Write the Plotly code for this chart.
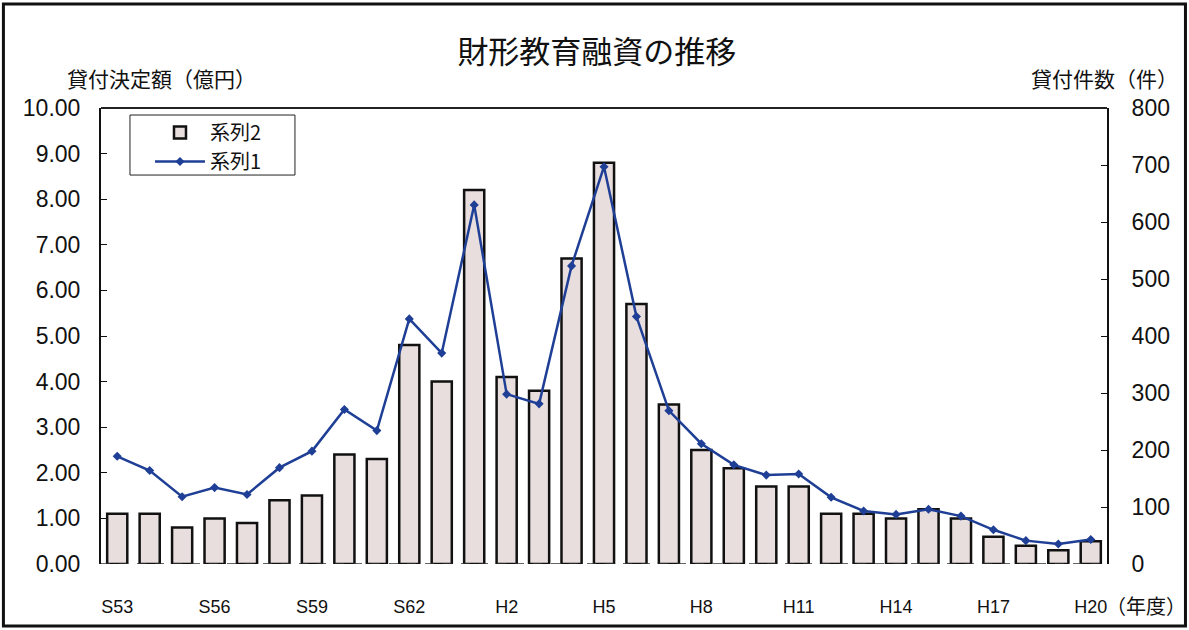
import plotly.graph_objects as go

years = ["S53","S54","S55","S56","S57","S58","S59","S60","S61","S62","S63",
         "H1","H2","H3","H4","H5","H6","H7","H8","H9","H10",
         "H11","H12","H13","H14","H15","H16","H17","H18","H19","H20"]
amount = [1.1, 1.1, 0.8, 1.0, 0.9, 1.4, 1.5, 2.4, 2.3, 4.8, 4.0,
          8.2, 4.1, 3.8, 6.7, 8.8, 5.7, 3.5, 2.5, 2.1, 1.7,
          1.7, 1.1, 1.1, 1.0, 1.2, 1.0, 0.6, 0.4, 0.3, 0.5]
count = [189, 164, 118, 134, 122, 169, 198, 271, 234, 430, 370,
         630, 298, 281, 523, 697, 434, 269, 211, 174, 156,
         158, 117, 93, 87, 96, 84, 60, 41, 35, 43]
tick_labels = ["S53","S56","S59","S62","H2","H5","H8","H11","H14","H17","H20"]

NUM_FONT = "Liberation Sans, Arial, sans-serif"
JP_FONT = "Noto Sans CJK JP, sans-serif"

fig = go.Figure()
fig.add_trace(go.Bar(
    x=years, y=amount, name="系列2",
    marker=dict(color="#e8dede", line=dict(color="#111111", width=2.5)),
    yaxis="y",
))
fig.add_trace(go.Scatter(
    x=years, y=count, name="系列1", mode="lines+markers",
    line=dict(color="#1f3f96", width=2.5),
    marker=dict(symbol="diamond", size=7, color="#1f3f96"),
    yaxis="y2",
))

fig.update_layout(
    width=1189, height=630,
    margin=dict(l=101, r=82, t=108, b=66),
    paper_bgcolor="white", plot_bgcolor="white",
    bargap=0.38,
    showlegend=True,
    legend=dict(x=0.0487, y=0.989, xanchor="left", yanchor="top",
                bgcolor="rgba(0,0,0,0)", borderwidth=0,
                font=dict(family=JP_FONT, size=20, color="#111111"),
                tracegroupgap=0, itemwidth=50),
    title=dict(text="財形教育融資の推移", x=0.502, xanchor="center",
               y=0.917, yanchor="middle",
               font=dict(family=JP_FONT, size=31, color="#111111")),
    xaxis=dict(
        type="category", tickmode="array", tickvals=tick_labels, ticktext=tick_labels,
        showline=False, showgrid=False, ticks="outside", ticklen=26,
        tickcolor="rgba(0,0,0,0)",
        tickfont=dict(family=NUM_FONT, size=18, color="#111111"),
        range=[-0.5, len(years) - 0.5],
    ),
    yaxis=dict(
        range=[0, 10], dtick=1, tickformat=".2f", showgrid=False,
        showline=True, linecolor="#111111", linewidth=2,
        ticks="inside", ticklen=6, tickcolor="#111111",
        tickfont=dict(family=NUM_FONT, size=23, color="#111111"),
        ticklabelstandoff=14, zeroline=False,
    ),
    yaxis2=dict(
        range=[0, 800], dtick=100, overlaying="y", side="right", showgrid=False,
        showline=True, linecolor="#111111", linewidth=2,
        ticks="inside", ticklen=6, tickcolor="#111111",
        tickfont=dict(family=NUM_FONT, size=23, color="#111111"),
        ticklabelstandoff=18, zeroline=False,
    ),
    shapes=[
        dict(type="line", xref="paper", yref="paper", x0=0, x1=1, y0=1, y1=1,
             line=dict(color="#222222", width=2)),
        dict(type="line", xref="paper", yref="y", x0=0, x1=1, y0=0, y1=0,
             line=dict(color="#333333", width=1.5, dash="dash")),
        dict(type="rect", xref="paper", yref="paper",
             x0=-0.097, x1=1.078, y0=-0.136, y1=1.228,
             line=dict(color="#111111", width=3)),
        dict(type="rect", xref="paper", yref="paper", layer="above",
             x0=0.0288, x1=0.1928, y0=0.853, y1=0.9846,
             fillcolor="white", line=dict(color="#222222", width=1)),
    ],
    annotations=[
        dict(text="貸付決定額（億円）", xref="paper", yref="paper", x=-0.036, y=1.066,
             xanchor="left", yanchor="middle", showarrow=False,
             font=dict(family=JP_FONT, size=21, color="#111111")),
        dict(text="貸付件数（件）", xref="paper", yref="paper", x=1.073, y=1.066,
             xanchor="right", yanchor="middle", showarrow=False,
             font=dict(family=JP_FONT, size=21, color="#111111")),
        dict(text="（年度）", xref="paper", yref="paper", x=0.997, y=-0.09,
             xanchor="left", yanchor="middle", showarrow=False,
             font=dict(family=JP_FONT, size=20, color="#111111")),
    ],
)

fig.write_html("out.html", config={"displayModeBar": False},
               post_script="document.body.style.margin='0';document.body.style.overflow='hidden';")
